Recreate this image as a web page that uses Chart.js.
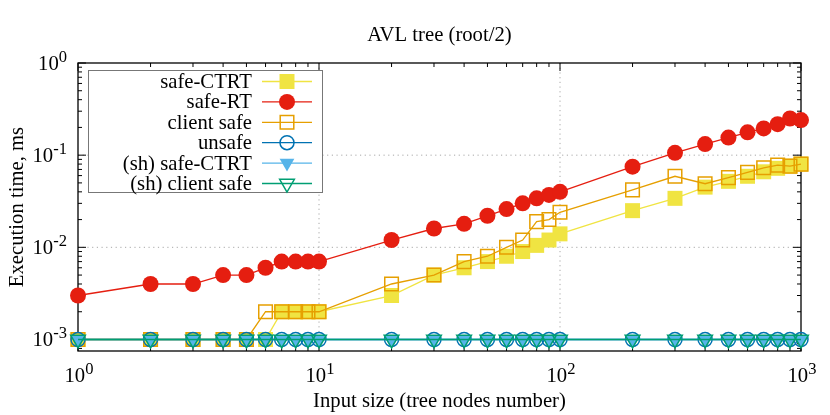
<!DOCTYPE html>
<html>
<head>
<meta charset="utf-8">
<script src="https://cdn.jsdelivr.net/npm/chart.js@4.4.1/dist/chart.umd.min.js"></script>
<style>
  html, body { margin: 0; padding: 0; background: #fff; }
  #wrap { width: 830px; height: 415px; }
</style>
</head>
<body>
<div id="wrap"><canvas id="avlChart"></canvas></div>
<script>
// Input sizes (tree nodes number)
const inputSizes = [1, 2, 3, 4, 5, 6, 7, 8, 9, 10, 20, 30, 40, 50, 60, 70, 80, 90, 100,
                    200, 300, 400, 500, 600, 700, 800, 900, 1000];

// Execution time, ms
const safeCTRT = [0.001, 0.001, 0.001, 0.001, 0.001, 0.001, 0.002, 0.002, 0.002, 0.002,
                  0.003, 0.005, 0.006, 0.007, 0.008, 0.009, 0.0105, 0.012, 0.014,
                  0.025, 0.034, 0.045, 0.052, 0.059, 0.066, 0.072, 0.076, 0.080];
const safeRT = [0.003, 0.004, 0.004, 0.005, 0.005, 0.006, 0.007, 0.007, 0.007, 0.007,
                0.012, 0.016, 0.018, 0.022, 0.026, 0.030, 0.034, 0.037, 0.040,
                0.075, 0.106, 0.132, 0.155, 0.177, 0.195, 0.217, 0.250, 0.240];
const clientSafe = [0.001, 0.001, 0.001, 0.001, 0.001, 0.002, 0.002, 0.002, 0.002, 0.002,
                    0.004, 0.005, 0.007, 0.008, 0.010, 0.012, 0.019, 0.020, 0.024,
                    0.042, 0.059, 0.049, 0.057, 0.065, 0.073, 0.078, 0.076, 0.080];
const unsafe = [0.001, 0.001, 0.001, 0.001, 0.001, 0.001, 0.001, 0.001, 0.001, 0.001,
                0.001, 0.001, 0.001, 0.001, 0.001, 0.001, 0.001, 0.001, 0.001,
                0.001, 0.001, 0.001, 0.001, 0.001, 0.001, 0.001, 0.001, 0.001];
const shSafeCTRT = [0.001, 0.001, 0.001, 0.001, 0.001, 0.001, 0.001, 0.001, 0.001, 0.001,
                    0.001, 0.001, 0.001, 0.001, 0.001, 0.001, 0.001, 0.001, 0.001,
                    0.001, 0.001, 0.001, 0.001, 0.001, 0.001, 0.001, 0.001, 0.001];
const shClientSafe = [0.001, 0.001, 0.001, 0.001, 0.001, 0.001, 0.001, 0.001, 0.001, 0.001,
                      0.001, 0.001, 0.001, 0.001, 0.001, 0.001, 0.001, 0.001, 0.001,
                      0.001, 0.001, 0.001, 0.001, 0.001, 0.001, 0.001, 0.001, 0.001];

const xTicks = [1, 10, 100, 1000];
const yTicks = [0.001, 0.01, 0.1, 1];

const FONT = "'Liberation Serif', 'DejaVu Serif', serif";
const FS = 20.7;

function toPoints(values) {
    return values.map((v, i) => ({ x: inputSizes[i], y: v }));
}

function series(label, values, color, style, opts) {
    return Object.assign({
        label: label,
        data: toPoints(values),
        borderColor: color,
        backgroundColor: color,
        borderWidth: 1.3,
        pointStyle: style,
        pointBorderColor: color,
        pointBackgroundColor: color,
        pointBorderWidth: 0,
        tension: 0,
        clip: false
    }, opts);
}

const datasets = [
    series('safe-CTRT', safeCTRT, '#f0e442', 'rect', { pointRadius: 10.6, order: 6 }),
    series('safe-RT', safeRT, '#e51e10', 'circle', { pointRadius: 8, order: 5 }),
    series('client safe', clientSafe, '#e69f00', 'rect',
        { pointRadius: 9.6, pointBorderWidth: 1.5, pointBackgroundColor: 'rgba(0,0,0,0)', order: 4 }),
    series('unsafe', unsafe, '#0072b2', 'circle',
        { pointRadius: 7, pointBorderWidth: 1.5, pointBackgroundColor: 'rgba(0,0,0,0)', order: 3 }),
    series('(sh) safe-CTRT', shSafeCTRT, '#56b4e9', 'triangle',
        { pointRadius: 8.5, pointRotation: 180, order: 2 }),
    series('(sh) client safe', shClientSafe, '#009e73', 'triangle',
        { pointRadius: 8.5, pointRotation: 180, pointBorderWidth: 1.5,
          pointBackgroundColor: 'rgba(0,0,0,0)', order: 1 })
];

function line(ctx, x1, y1, x2, y2) {
    ctx.beginPath();
    ctx.moveTo(x1, y1);
    ctx.lineTo(x2, y2);
    ctx.stroke();
}

// "10" with a raised exponent, like gnuplot's enhanced text
function drawPowLabel(ctx, v, x, baseline, align) {
    const exp = String(Math.round(Math.log10(v)));
    ctx.font = FS + 'px ' + FONT;
    const wBase = ctx.measureText('10').width;
    ctx.font = (FS * 0.8) + 'px ' + FONT;
    const wExp = ctx.measureText(exp).width;
    const w = wBase + wExp;
    const start = align === 'right' ? x - w : x - w / 2;
    ctx.textAlign = 'left';
    ctx.textBaseline = 'alphabetic';
    ctx.fillStyle = '#000';
    ctx.font = FS + 'px ' + FONT;
    ctx.fillText('10', start, baseline);
    ctx.font = (FS * 0.8) + 'px ' + FONT;
    ctx.fillText(exp, start + wBase, baseline - 8.5);
}

// gnuplot-like frame: dotted grid, border, inward ticks on all sides
const framePlugin = {
    id: 'frame',
    beforeDatasetsDraw(chart) {
        const ctx = chart.ctx;
        const area = chart.chartArea;
        const xs = chart.scales.x, ys = chart.scales.y;
        ctx.save();

        // dotted grid at major ticks
        ctx.strokeStyle = '#a8a8a8';
        ctx.lineWidth = 1;
        ctx.setLineDash([1.2, 3.5]);
        xTicks.forEach(v => {
            const p = xs.getPixelForValue(v);
            if (p > area.left + 1 && p < area.right - 1) line(ctx, p, area.top, p, area.bottom);
        });
        yTicks.forEach(v => {
            const p = ys.getPixelForValue(v);
            if (p > area.top + 1 && p < area.bottom - 1) line(ctx, area.left, p, area.right, p);
        });
        ctx.setLineDash([]);

        // border
        ctx.strokeStyle = '#000';
        ctx.lineWidth = 1.3;
        ctx.strokeRect(area.left, area.top, area.right - area.left, area.bottom - area.top);

        // ticks
        ctx.lineWidth = 1;
        [[xs, true], [ys, false]].forEach(([scale, isX]) => {
            const lo = Math.floor(Math.log10(scale.min));
            const hi = Math.ceil(Math.log10(scale.max));
            for (let e = lo; e <= hi; e++) {
                for (let m = 1; m <= 9; m++) {
                    const v = m * Math.pow(10, e);
                    if (v < scale.min * 0.999 || v > scale.max * 1.001) continue;
                    const len = m === 1 ? 8 : 4;
                    const p = scale.getPixelForValue(v);
                    if (isX) {
                        line(ctx, p, area.bottom, p, area.bottom - len);
                        line(ctx, p, area.top, p, area.top + len);
                    } else {
                        line(ctx, area.left, p, area.left + len, p);
                        line(ctx, area.right, p, area.right - len, p);
                    }
                }
            }
        });

        // tick labels
        xTicks.forEach(v => drawPowLabel(ctx, v, xs.getPixelForValue(v) + 1, area.bottom + 31, 'center'));
        yTicks.forEach(v => drawPowLabel(ctx, v, area.left - 11, ys.getPixelForValue(v) + 7, 'right'));
        ctx.restore();
    },
    afterDraw(chart) {
        const ctx = chart.ctx;
        const area = chart.chartArea;
        ctx.save();

        // title
        ctx.fillStyle = '#000';
        ctx.font = FS + 'px ' + FONT;
        ctx.textAlign = 'center';
        ctx.textBaseline = 'alphabetic';
        ctx.fillText('AVL tree (root/2)', (area.left + area.right) / 2, 41);

        // legend box, top left inside the plot
        const bx = area.left + 10, by = area.top + 7, bw = 234, bh = 122;
        ctx.fillStyle = '#fff';
        ctx.fillRect(bx, by, bw, bh);
        ctx.strokeStyle = '#777';
        ctx.lineWidth = 1;
        ctx.strokeRect(bx + 0.5, by + 0.5, bw, bh);

        const rowH = 20.4;
        chart.data.datasets.forEach((ds, i) => {
            const y = by + 11.5 + i * rowH;
            ctx.fillStyle = '#000';
            ctx.textAlign = 'right';
            ctx.textBaseline = 'middle';
            ctx.fillText(ds.label, bx + 164, y + 1);

            ctx.strokeStyle = ds.borderColor;
            ctx.lineWidth = ds.borderWidth;
            line(ctx, bx + 174, y, bx + 224, y);

            ctx.fillStyle = ds.pointBackgroundColor;
            ctx.strokeStyle = ds.pointBorderColor;
            ctx.lineWidth = ds.pointBorderWidth;
            Chart.helpers.drawPoint(ctx, {
                pointStyle: ds.pointStyle,
                rotation: ds.pointRotation || 0,
                radius: ds.pointRadius,
                borderWidth: ds.pointBorderWidth
            }, bx + 199, y);
        });
        ctx.restore();
    }
};

const ctx = document.getElementById('avlChart').getContext('2d');
new Chart(ctx, {
    type: 'line',
    data: { datasets: datasets },
    options: {
        responsive: true,
        maintainAspectRatio: false,
        animation: false,
        events: [],
        layout: { padding: { top: 63, right: 29, left: 0, bottom: 0 } },
        plugins: {
            legend: { display: false },
            title: { display: false },
            tooltip: { enabled: false }
        },
        scales: {
            x: {
                type: 'logarithmic',
                min: 1,
                max: 1000,
                afterBuildTicks: scale => { scale.ticks = xTicks.map(v => ({ value: v })); },
                afterFit: scale => { scale.height = 64; },
                grid: { display: false, drawTicks: false },
                border: { display: false },
                ticks: { display: false },
                title: {
                    display: true,
                    text: 'Input size (tree nodes number)',
                    color: '#000',
                    font: { family: FONT, size: FS },
                    padding: { top: 0, bottom: 1 }
                }
            },
            y: {
                type: 'logarithmic',
                min: 0.00075,
                max: 1,
                afterBuildTicks: scale => { scale.ticks = yTicks.map(v => ({ value: v })); },
                afterFit: scale => { scale.width = 78; },
                grid: { display: false, drawTicks: false },
                border: { display: false },
                ticks: { display: false },
                title: {
                    display: true,
                    text: 'Execution time, ms',
                    color: '#000',
                    font: { family: FONT, size: FS },
                    padding: { top: 5, bottom: 0 }
                }
            }
        }
    },
    plugins: [framePlugin]
});
</script>
</body>
</html>
